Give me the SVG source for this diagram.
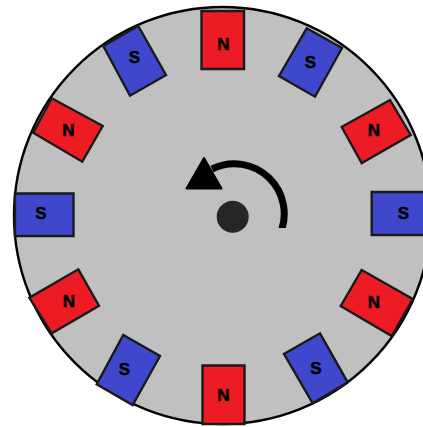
<svg xmlns="http://www.w3.org/2000/svg" width="423" height="427" viewBox="0 0 423 427">
<style>
.n{fill:#ed1c24;stroke:#1a1a1a;stroke-width:2.4;stroke-linejoin:miter}
.s{fill:#3f48cc;stroke:#1a1a1a;stroke-width:2.4;stroke-linejoin:miter}
text{font-family:"Liberation Sans",Arial,sans-serif;font-weight:700;font-size:17px;fill:#000;text-anchor:middle;stroke:#000;stroke-width:.5}
</style>
<defs><clipPath id="arc-clip"><rect x="190" y="140" width="110" height="88"/></clipPath></defs>
<rect width="423" height="427" fill="#fff"/>
<g id="rotor"><circle cx="222.5" cy="215.5" r="208.5" fill="#c0c0c0" stroke="#000" stroke-width="2.4"/></g>
<g id="magnet-n-top"><polygon class="n" points="201.500,11 244,11 244,69 201.500,69"/><text x="223.500" y="49.500">N</text></g>
<g id="magnet-s-upper-right"><polygon class="s" points="306.700,28.300 342,48 315,96.700 279,76"/><text x="310.500" y="67.500">S</text></g>
<g id="magnet-n-right-upper"><polygon class="n" points="390,100 410.700,135 361.700,163 341.700,127"/><text x="374" y="136">N</text></g>
<g id="magnet-s-right"><polygon class="s" points="371.700,192 425,192 425,235 371.700,235"/><text x="403.500" y="218.500">S</text></g>
<g id="magnet-n-right-lower"><polygon class="n" points="361.700,270 412.700,299 391.700,336 340.700,306"/><text x="374" y="307.500">N</text></g>
<g id="magnet-s-lower-right"><polygon class="s" points="320,333.300 347.700,382.300 312.700,403.300 284,354"/><text x="316" y="373.500">S</text></g>
<g id="magnet-n-bottom"><polygon class="n" points="202.500,365.500 244.500,365.500 244.500,424 202.500,424"/><text x="223.500" y="400.500">N</text></g>
<g id="magnet-s-lower-left"><polygon class="s" points="123.300,335 160,356 132.700,405 96.700,384.300"/><text x="124.500" y="374.500">S</text></g>
<g id="magnet-n-left-lower"><polygon class="n" points="78.300,269.300 99,305.700 51.700,333.300 29.300,297.700"/><text x="69" y="306.500">N</text></g>
<g id="magnet-s-left"><polygon class="s" points="15,193.500 73.500,193.500 73.500,236 15,236"/><text x="41" y="218.500">S</text></g>
<g id="magnet-n-upper-left"><polygon class="n" points="51.700,98.300 102.700,126 82.300,161.700 33.300,132.700"/><text x="68.500" y="136">N</text></g>
<g id="magnet-s-upper-left"><polygon class="s" points="138.300,26 166,75 130,95.700 103.300,46"/><text x="134.500" y="62.500">S</text></g>
<g id="hub"><circle cx="232.700" cy="216.700" r="16" fill="#262626"/></g>
<g id="connectors"><path d="M279.500,235 A50,50 0 0 0 212,169" fill="none" stroke="#000" stroke-width="7" clip-path="url(#arc-clip)"/><polygon points="204,158 186.500,188.500 221.500,188.500" fill="#000" stroke="#000" stroke-width="2" stroke-linejoin="round"/></g>
</svg>
